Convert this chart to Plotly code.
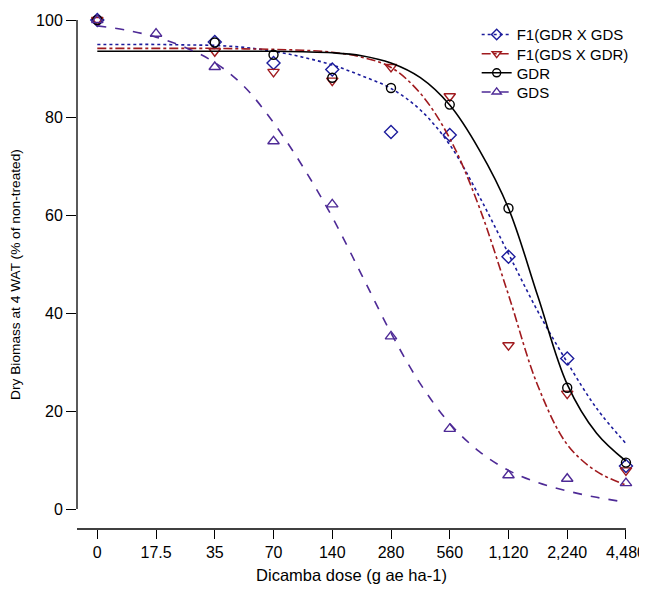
import plotly.graph_objects as go

# Observed doses (g ae ha-1); 0 = non-treated, drawn one doubling below 17.5 on the log axis
doses = [0, 17.5, 35, 70, 140, 280, 560, 1120, 2240, 4480]
tick_labels = ["0", "17.5", "35", "70", "140", "280", "560", "1,120", "2,240", "4,480"]
zero_pos = 8.75

# Observed dry biomass (% of non-treated); None = not measured
f1_gdr_gds = [100, None, 95.5, 91.2, 89.9, 77.1, 76.5, 51.6, 30.8, 8.8]
f1_gds_gdr = [100, None, 93.6, 89.4, 87.6, 90.4, 84.4, 33.5, 23.6, 7.9]
gdr = [100, None, 95.4, 92.9, 88.2, 86.1, 82.7, 61.5, 24.8, 9.5]
gds = [100, 97.2, 90.4, 75.2, 62.3, 35.3, 16.4, 6.9, 6.2, 5.3]

# Fitted curves at half-doubling steps
curve_doses = [8.75, 12.4, 17.5, 24.7, 35, 49.5, 70, 99, 140, 198, 280,
               396, 560, 792, 1120, 1584, 2240, 3168, 4480]
fit_f1_gdr_gds = [95.0, 95.0, 95.0, 94.9, 94.8, 94.4, 93.6, 92.4, 90.8, 88.6, 86.0,
                  81.6, 74.5, 64.0, 52.2, 40.4, 30.0, 20.6, 13.4]
fit_f1_gds_gdr = [94.2, 94.2, 94.2, 94.2, 94.2, 94.1, 94.0, 93.8, 93.4, 92.4, 90.3,
                  85.0, 75.8, 61.8, 43.8, 25.2, 13.2, 7.7, 4.9]
fit_gdr = [93.6, 93.6, 93.6, 93.6, 93.6, 93.6, 93.6, 93.5, 93.3, 92.7, 91.2,
           88.2, 82.6, 73.5, 61.5, 43.5, 25.5, 15.5, 9.8]
fit_gds = [98.8, 97.9, 96.5, 94.4, 91.3, 86.4, 79.0, 70.0, 59.7, 47.9, 36.0,
           25.6, 17.5, 11.8, 7.9, 5.4, 3.7, 2.4, 1.4]

series = [
    ("F1(GDR X GDS", f1_gdr_gds, fit_f1_gdr_gds, "#1c1c9c", "dot", "diamond-open", 10),
    ("F1(GDS X GDR)", f1_gds_gdr, fit_f1_gds_gdr, "#a01a1e", "dashdot", "triangle-down-open", 10),
    ("GDR", gdr, fit_gdr, "#000000", "solid", "circle-open", 9),
    ("GDS", gds, fit_gds, "#4e2a96", "dash", "triangle-up-open", 10),
]

xpos = [zero_pos if d == 0 else d for d in doses]
font = "Liberation Sans, Arial, sans-serif"

fig = go.Figure()
legend_layout = {}
for i, (name, obs, fit, color, dash, symbol, size) in enumerate(series):
    fig.add_trace(go.Scatter(
        x=curve_doses, y=fit, mode="lines", showlegend=False,
        line=dict(color=color, width=1.6, dash=dash, shape="spline"),
    ))
    fig.add_trace(go.Scatter(
        x=xpos, y=obs, mode="markers", showlegend=False, cliponaxis=False,
        marker=dict(symbol=symbol, size=size, color=color, line=dict(width=1.4, color=color)),
    ))
    # one small legend per series so the rows sit as tight as the original
    key = "legend" if i == 0 else "legend%d" % (i + 1)
    fig.add_trace(go.Scatter(
        x=[None], y=[None], mode="lines+markers", name=name, legend=key,
        line=dict(color=color, width=1.6, dash=dash),
        marker=dict(symbol=symbol, size=8, color=color, line=dict(width=1.4, color=color)),
    ))
    legend_layout[key] = dict(
        x=0.728, y=0.969 - 0.0375 * i, xanchor="left", yanchor="middle",
        font=dict(size=15), itemwidth=30, bgcolor="rgba(0,0,0,0)",
    )

# page body keeps its default 8px margin, so the figure is shrunk to avoid scrollbars
fig.update_layout(
    width=639, height=576,
    margin=dict(l=69, r=21, t=11, b=55),
    plot_bgcolor="white", paper_bgcolor="white",
    font=dict(family=font, size=16, color="black"),
    showlegend=True,
    xaxis=dict(
        type="log", range=[0.838, 3.6515], automargin=False,
        tickvals=xpos, ticktext=tick_labels, tickfont=dict(size=16),
        ticks="outside", ticklen=9, tickwidth=1.3, tickcolor="black",
        showgrid=False, zeroline=False, showline=False,
        title=dict(text="Dicamba dose (g ae ha-1)", font=dict(size=16.5), standoff=14),
    ),
    yaxis=dict(
        range=[-4.08, 100], automargin=False,
        tickvals=[0, 20, 40, 60, 80, 100], tickfont=dict(size=16),
        ticks="outside", ticklen=10, tickwidth=1.3, tickcolor="black",
        showgrid=False, zeroline=False, showline=False,
        title=dict(text="Dry Biomass at 4 WAT (% of non-treated)", font=dict(size=13.7), standoff=24),
    ),
    shapes=[
        dict(type="line", xref="paper", yref="y", x0=0, x1=0, y0=0, y1=100,
             line=dict(color="black", width=1.3)),
        dict(type="line", xref="paper", yref="paper", x0=0, x1=1, y0=0, y1=0,
             line=dict(color="black", width=1.3)),
    ],
)
fig.update_layout(**legend_layout)

fig.write_html("out.html")
